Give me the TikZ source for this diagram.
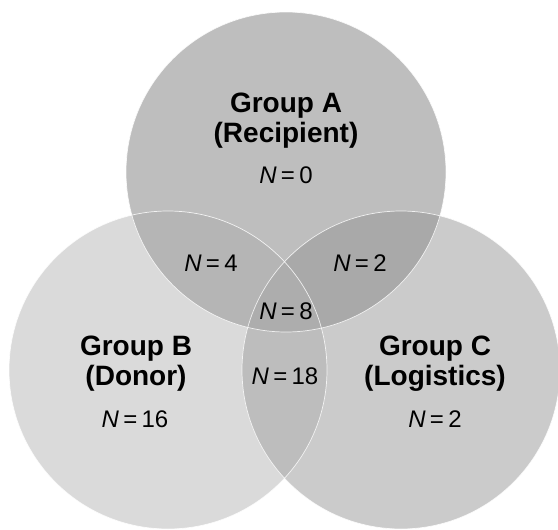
\documentclass[tikz,border=0pt]{standalone}
\usepackage{fontspec}
\setmainfont{Liberation Sans}
\definecolor{colA}{RGB}{190,190,190}
\definecolor{colB}{RGB}{218,218,218}
\definecolor{colC}{RGB}{203,203,203}
\definecolor{colAB}{RGB}{181,181,181}
\definecolor{colAC}{RGB}{169,169,169}
\definecolor{colBC}{RGB}{189,189,189}
\definecolor{colABC}{RGB}{173,173,173}
\newcommand{\nval}[1]{\itshape N\upshape\hspace{0.18em}=\hspace{0.18em}#1}
\begin{document}
\begin{tikzpicture}[x=1pt,y=-1pt,
  grp/.style={anchor=base, inner sep=0pt, font=\fontsize{28}{30}\selectfont\bfseries},
  cnt/.style={anchor=base, inner sep=0pt, font=\fontsize{24}{26}\selectfont},
  rim/.style={draw=white, line width=0.7pt, opacity=0.8}]
\useasboundingbox (0,0) rectangle (558,530);
\fill[white] (0,0) rectangle (558,530);
\coordinate (cA) at (286,172);
\coordinate (cB) at (168,370);
\coordinate (cC) at (401,370);
\begin{scope}
  \clip (0,0) rectangle (558,530);
  \fill[colA] (cA) circle[radius=160pt];
  \fill[colB] (cB) circle[radius=159pt];
  \fill[colC] (cC) circle[radius=159pt];
  \begin{scope}
    \clip (cA) circle[radius=160pt];
    \fill[colAB] (cB) circle[radius=159pt];
    \fill[colAC] (cC) circle[radius=159pt];
  \end{scope}
  \begin{scope}
    \clip (cB) circle[radius=159pt];
    \fill[colBC] (cC) circle[radius=159pt];
  \end{scope}
  \begin{scope}
    \clip (cA) circle[radius=160pt];
    \clip (cB) circle[radius=159pt];
    \fill[colABC] (cC) circle[radius=159pt];
  \end{scope}
  \draw[rim] (cA) circle[radius=160pt];
  \draw[rim] (cB) circle[radius=159pt];
  \draw[rim] (cC) circle[radius=159pt];
\end{scope}
% Group A
\node[grp] (ta1) at (286,112) {Group A};
\node[grp] (ta2) at (286,142) {(Recipient)};
\node[cnt] (na) at (286,183) {\nval{0}};
% Group B
\node[grp] (tb1) at (136,355) {Group B};
\node[grp] (tb2) at (136,385) {(Donor)};
\node[cnt] (nb) at (135,427) {\nval{16}};
% Group C
\node[grp] (tc1) at (435,355) {Group C};
\node[grp] (tc2) at (435,385) {(Logistics)};
\node[cnt] (nc) at (435,427) {\nval{2}};
% overlaps
\node[cnt] (nab) at (211,271) {\nval{4}};
\node[cnt] (nac) at (360,271) {\nval{2}};
\node[cnt] (nabc) at (286,319) {\nval{8}};
\node[cnt] (nbc) at (285,384) {\nval{18}};
\end{tikzpicture}
\end{document}
